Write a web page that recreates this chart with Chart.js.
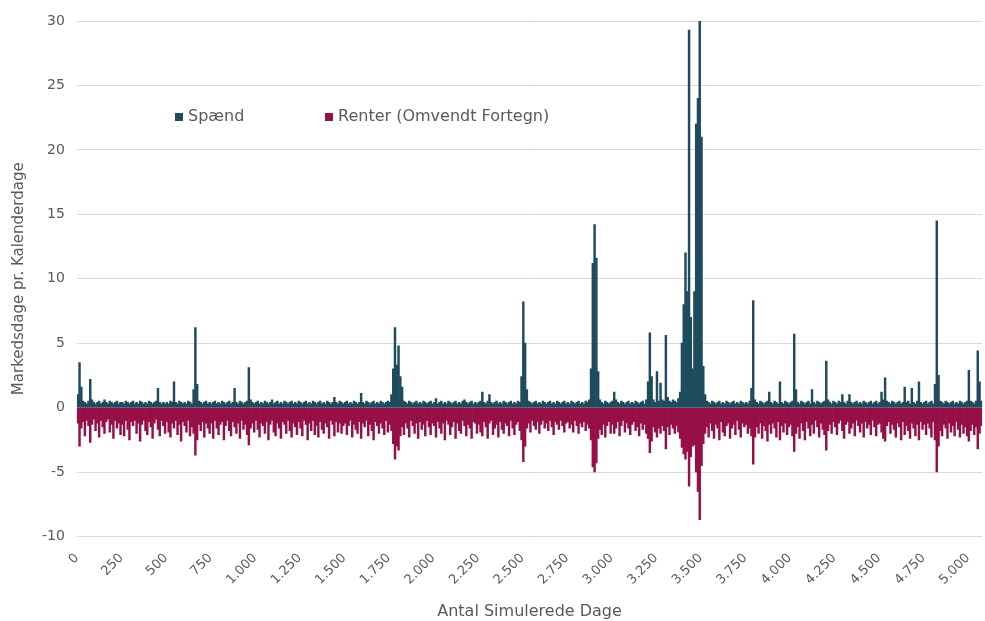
<!DOCTYPE html>
<html>
<head>
<meta charset="utf-8">
<script src="https://cdn.jsdelivr.net/npm/chart.js@4.4.1/dist/chart.umd.min.js"></script>
<style>
  html, body { margin: 0; padding: 0; background: #ffffff; }
  #wrap { width: 985px; height: 621px; position: relative; }
</style>
</head>
<body>
<div id="wrap"><canvas id="chart" width="985" height="621"></canvas></div>
<script>
// Each value covers a 10-day bin of simulated days (peak within the bin).
const BIN_DAYS = 10;
const X_MAX_DAYS = 5080;

// Spænd: market days per calendar day (positive side)
const spaend = [
  1.0,3.5,1.6,0.5,0.4,0.3,0.5,2.2,0.6,0.4,0.3,0.4,0.5,0.3,0.4,0.6,0.4,0.3,0.5,0.4,0.3,0.4,0.5,0.3,0.4,
  0.4,0.3,0.5,0.4,0.3,0.4,0.5,0.3,0.4,0.3,0.5,0.4,0.3,0.4,0.3,0.5,0.4,0.3,0.4,0.5,1.5,0.4,0.3,0.4,0.3,
  0.4,0.3,0.5,0.4,2.0,0.4,0.3,0.5,0.4,0.3,0.4,0.3,0.5,0.4,0.3,1.4,6.2,1.8,0.5,0.4,0.3,0.4,0.5,0.3,0.4,
  0.3,0.4,0.5,0.3,0.4,0.3,0.5,0.4,0.3,0.4,0.5,0.3,0.4,1.5,0.4,0.3,0.5,0.4,0.3,0.4,0.5,3.1,0.6,0.4,0.3,
  0.4,0.5,0.3,0.4,0.3,0.5,0.4,0.3,0.4,0.6,0.3,0.4,0.5,0.3,0.4,0.3,0.5,0.4,0.3,0.4,0.5,0.3,0.4,0.3,0.5,
  0.4,0.3,0.4,0.5,0.3,0.4,0.3,0.5,0.4,0.3,0.4,0.5,0.3,0.4,0.3,0.5,0.4,0.3,0.4,0.8,0.4,0.3,0.5,0.4,0.3,
  0.4,0.5,0.3,0.4,0.3,0.5,0.4,0.3,0.4,1.1,0.4,0.3,0.5,0.4,0.3,0.4,0.5,0.3,0.4,0.3,0.5,0.4,0.3,0.4,0.5,
  0.4,1.0,3.0,6.2,3.3,4.8,2.4,1.6,0.5,0.4,0.3,0.5,0.4,0.3,0.4,0.5,0.3,0.4,0.3,0.5,0.4,0.3,0.4,0.5,0.3,
  0.4,0.7,0.3,0.4,0.5,0.3,0.4,0.3,0.5,0.4,0.3,0.4,0.5,0.3,0.4,0.3,0.5,0.6,0.4,0.3,0.4,0.5,0.3,0.4,0.3,
  0.4,0.5,1.2,0.4,0.3,0.5,1.0,0.4,0.3,0.4,0.5,0.3,0.4,0.3,0.5,0.4,0.3,0.4,0.5,0.3,0.4,0.3,0.5,0.4,2.4,
  8.2,5.0,1.4,0.5,0.4,0.3,0.4,0.5,0.3,0.4,0.3,0.5,0.4,0.3,0.4,0.5,0.3,0.4,0.3,0.5,0.4,0.3,0.4,0.5,0.3,
  0.4,0.3,0.5,0.4,0.3,0.4,0.5,0.3,0.4,0.3,0.5,0.4,0.6,3.0,11.2,14.2,11.6,2.8,0.6,0.4,0.3,0.5,0.4,0.3,0.4,
  0.5,1.2,0.6,0.4,0.3,0.5,0.4,0.3,0.4,0.5,0.3,0.4,0.3,0.5,0.4,0.3,0.4,0.5,0.3,0.6,2.0,5.8,2.4,0.6,0.4,
  2.8,0.5,1.9,0.6,0.5,5.6,0.8,0.5,0.4,0.6,0.5,0.4,0.7,1.2,5.0,8.0,12.0,9.0,29.3,7.0,3.0,9.0,22.0,24.0,30.0,
  21.0,3.2,1.0,0.5,0.4,0.3,0.5,0.4,0.3,0.4,0.5,0.3,0.4,0.3,0.5,0.4,0.3,0.4,0.5,0.3,0.4,0.3,0.5,0.4,0.3,
  0.4,0.3,0.5,1.5,8.3,0.6,0.4,0.3,0.5,0.4,0.3,0.4,0.5,1.2,0.4,0.3,0.5,0.4,0.3,2.0,0.4,0.3,0.5,0.4,0.3,
  0.4,0.5,5.7,1.4,0.4,0.3,0.5,0.4,0.3,0.4,0.5,0.3,1.4,0.4,0.3,0.5,0.4,0.3,0.4,0.5,3.6,0.6,0.4,0.3,0.5,
  0.4,0.3,0.5,0.4,1.0,0.4,0.3,0.5,1.0,0.4,0.3,0.4,0.5,0.3,0.4,0.3,0.5,0.4,0.3,0.4,0.5,0.3,0.4,0.5,0.3,
  0.4,1.2,0.6,2.3,0.5,0.4,0.3,0.5,0.4,0.3,0.4,0.5,0.3,0.4,1.6,0.4,0.5,0.3,1.5,0.4,0.3,0.5,2.0,0.4,0.3,
  0.4,0.5,0.3,0.4,0.5,0.3,1.8,14.5,2.5,0.5,0.4,0.3,0.5,0.4,0.3,0.4,0.5,0.3,0.4,0.3,0.5,0.4,0.3,0.4,0.5,
  2.9,0.5,0.4,0.3,0.5,4.4,2.0,0.5
];

// Renter, shown with reversed sign (negative side)
const renter = [
  -1.2,-3.0,-1.6,-1.1,-2.2,-1.0,-1.4,-2.7,-1.3,-0.9,-1.8,-1.2,-2.3,-1.0,-1.5,-2.0,-1.1,-0.9,-1.9,-1.3,-2.4,-1.0,-1.6,-1.2,-2.1,
  -1.3,-2.2,-1.0,-1.7,-2.5,-1.1,-1.4,-1.0,-2.0,-1.2,-2.6,-1.3,-1.0,-1.8,-2.1,-1.1,-1.5,-2.4,-1.2,-0.9,-1.7,-2.2,-1.0,-1.4,-2.0,
  -1.1,-1.9,-2.3,-1.2,-1.6,-1.0,-2.1,-1.3,-2.6,-1.1,-1.4,-1.9,-1.0,-2.2,-1.5,-2.0,-3.7,-2.5,-1.3,-1.8,-1.1,-2.3,-1.2,-1.6,-2.0,
  -1.2,-2.4,-1.0,-1.6,-2.1,-1.3,-1.1,-2.5,-1.4,-1.0,-1.8,-2.2,-1.1,-1.5,-2.0,-1.2,-2.4,-1.0,-1.7,-1.3,-2.1,-2.9,-1.6,-1.2,-1.9,
  -1.0,-1.7,-2.3,-1.2,-1.4,-2.0,-1.1,-2.5,-1.3,-1.0,-1.9,-2.2,-1.2,-1.6,-2.4,-1.1,-1.3,-2.0,-1.0,-1.8,-2.3,-1.2,-1.5,-2.1,-1.1,
  -1.6,-2.2,-1.0,-1.3,-2.5,-1.2,-1.8,-1.0,-2.1,-1.4,-2.3,-1.1,-1.7,-2.0,-1.2,-1.5,-2.4,-1.0,-1.3,-2.2,-1.1,-1.9,-1.2,-2.0,-1.4,
  -1.2,-2.1,-1.4,-1.0,-2.3,-1.3,-1.7,-2.0,-1.1,-2.4,-1.2,-1.5,-1.0,-2.2,-1.3,-1.8,-2.5,-1.1,-1.4,-2.0,-1.2,-1.6,-2.1,-1.0,-1.9,
  -1.3,-1.8,-2.8,-4.0,-3.0,-3.3,-2.2,-1.5,-2.1,-1.2,-1.6,-2.3,-1.0,-1.4,-2.0,-1.2,-2.4,-1.1,-1.7,-1.3,-2.2,-1.0,-1.5,-2.1,-1.2,
  -1.4,-2.3,-1.1,-1.6,-2.0,-1.2,-2.5,-1.0,-1.3,-2.1,-1.5,-1.1,-2.4,-1.2,-1.8,-2.0,-1.0,-1.4,-2.2,-1.3,-1.6,-2.4,-1.1,-1.2,-2.0,
  -1.3,-1.9,-2.2,-1.1,-1.5,-2.4,-1.2,-1.0,-2.1,-1.6,-1.3,-2.3,-1.1,-1.7,-2.0,-1.2,-1.4,-2.2,-1.0,-1.6,-2.1,-1.3,-1.1,-1.8,-2.5,
  -4.2,-3.0,-1.6,-1.2,-1.9,-1.0,-1.4,-1.7,-1.1,-2.0,-1.3,-1.0,-1.6,-1.2,-1.8,-1.0,-1.5,-2.1,-1.1,-1.3,-1.7,-1.0,-1.4,-1.9,-1.2,
  -1.1,-1.6,-1.3,-1.9,-1.0,-1.4,-2.0,-1.2,-1.5,-1.1,-1.8,-1.3,-1.6,-2.5,-4.6,-5.0,-4.3,-2.4,-1.7,-2.1,-1.3,-2.3,-1.4,-1.1,-2.0,
  -1.3,-2.0,-1.6,-1.1,-2.2,-1.4,-1.0,-1.9,-1.2,-1.6,-2.1,-1.3,-1.1,-1.8,-1.5,-2.2,-1.2,-1.7,-1.3,-2.0,-2.4,-3.5,-2.6,-1.5,-1.9,
  -2.3,-1.6,-2.0,-1.4,-1.8,-3.2,-1.5,-2.1,-1.3,-1.6,-2.0,-1.4,-1.9,-2.4,-3.1,-3.6,-4.0,-3.4,-6.1,-3.8,-3.0,-2.9,-5.0,-6.5,-8.7,
  -4.5,-2.8,-2.0,-1.5,-2.3,-1.2,-1.8,-2.4,-1.3,-1.6,-2.5,-1.1,-1.9,-2.2,-1.4,-1.2,-2.4,-1.6,-1.3,-2.1,-1.0,-1.7,-2.3,-1.2,-1.5,
  -1.3,-2.0,-1.6,-2.2,-4.4,-2.3,-1.5,-2.0,-1.2,-2.4,-1.4,-1.8,-2.6,-1.3,-2.0,-1.2,-1.6,-2.3,-1.1,-2.5,-1.4,-1.9,-1.2,-2.1,-1.5,
  -1.3,-2.2,-3.4,-2.0,-1.5,-2.4,-1.2,-1.8,-2.5,-1.1,-1.6,-2.2,-1.3,-2.0,-1.0,-1.5,-2.3,-1.2,-1.7,-2.1,-3.3,-1.8,-1.3,-2.0,-1.1,
  -1.5,-2.1,-1.2,-1.0,-1.8,-2.4,-1.3,-1.1,-2.0,-1.6,-1.2,-2.2,-1.0,-1.4,-1.9,-1.2,-2.3,-1.1,-1.6,-1.3,-2.1,-1.0,-1.5,-2.2,-1.3,
  -1.2,-1.9,-2.4,-2.6,-1.4,-1.1,-2.0,-1.3,-1.7,-2.3,-1.2,-1.5,-2.5,-1.1,-2.1,-1.4,-1.8,-2.4,-1.2,-1.6,-2.2,-1.3,-2.5,-1.1,-1.7,
  -1.3,-2.1,-1.2,-1.6,-2.3,-1.1,-2.5,-5.0,-3.0,-1.8,-2.2,-1.3,-1.6,-2.4,-1.2,-1.9,-1.4,-2.2,-1.1,-1.7,-2.3,-1.3,-2.0,-1.5,-2.2,
  -2.6,-1.8,-1.3,-2.1,-1.5,-3.2,-2.0,-1.4
];

const xTickValues = [0,250,500,750,1000,1250,1500,1750,2000,2250,2500,2750,3000,3250,3500,3750,4000,4250,4500,4750,5000];
const xTickLabels = ['0','250','500','750','1.000','1.250','1.500','1.750','2.000','2.250','2.500','2.750','3.000','3.250','3.500','3.750','4.000','4.250','4.500','4.750','5.000'];
const yTickValues = [-10,-5,0,5,10,15,20,25,30];

const seriesNames = ['Spænd', 'Renter (Omvendt Fortegn)'];
const seriesColors = ['#1f4b5e', '#960f46'];

const FONT = 'DejaVu Sans';
const TEXT = '#595959';

// bins are centred inside their 10-day span on the linear day axis
const toPoints = arr => arr.map((v, i) => ({ x: i * BIN_DAYS + BIN_DAYS / 2, y: v }));

// legend drawn inside the plot, on one row
const insideLegend = {
  id: 'insideLegend',
  afterDraw(chart) {
    const ctx = chart.ctx;
    const items = [{ x: 175, y: 117 }, { x: 325, y: 117 }];
    ctx.save();
    ctx.font = '16px "' + FONT + '"';
    ctx.textBaseline = 'middle';
    ctx.textAlign = 'left';
    chart.data.datasets.forEach((ds, i) => {
      const p = items[i];
      ctx.fillStyle = ds.backgroundColor;
      ctx.fillRect(p.x, p.y - 4, 8, 8);
      ctx.fillStyle = TEXT;
      ctx.fillText(ds.label, p.x + 13, p.y);
    });
    ctx.restore();
  }
};

new Chart(document.getElementById('chart'), {
  type: 'bar',
  data: {
    datasets: [
      { label: seriesNames[0], data: toPoints(spaend), backgroundColor: seriesColors[0], grouped: false, barThickness: 1.8, borderWidth: 0 },
      { label: seriesNames[1], data: toPoints(renter), backgroundColor: seriesColors[1], grouped: false, barThickness: 1.8, borderWidth: 0 }
    ]
  },
  options: {
    responsive: false,
    animation: false,
    devicePixelRatio: 1,
    layout: { padding: { left: 4, right: 0, top: 21, bottom: 0 } },
    plugins: {
      legend: { display: false },
      tooltip: { enabled: false }
    },
    scales: {
      x: {
        type: 'linear',
        min: 0,
        max: X_MAX_DAYS,
        offset: false,
        grid: { display: false },
        border: { display: false },
        afterBuildTicks: s => { s.ticks = xTickValues.map(v => ({ value: v })); },
        ticks: {
          autoSkip: false,
          minRotation: 45,
          maxRotation: 45,
          padding: 6,
          color: TEXT,
          font: { family: FONT, size: 13 },
          callback: v => { const k = xTickValues.indexOf(v); return k >= 0 ? xTickLabels[k] : ''; }
        },
        title: {
          display: true,
          text: 'Antal Simulerede Dage',
          color: TEXT,
          font: { family: FONT, size: 16 },
          padding: { top: 8, bottom: 0 }
        }
      },
      y: {
        min: -10,
        max: 30,
        afterBuildTicks: s => { s.ticks = yTickValues.map(v => ({ value: v })); },
        grid: { color: '#d9d9d9', lineWidth: 1, drawTicks: false },
        border: { display: false },
        ticks: {
          padding: 12,
          color: TEXT,
          font: { family: FONT, size: 14 }
        },
        title: {
          display: true,
          text: 'Markedsdage pr. Kalenderdage',
          color: TEXT,
          font: { family: FONT, size: 15 },
          padding: { top: 6, bottom: 2 }
        }
      }
    }
  },
  plugins: [insideLegend]
});
</script>
</body>
</html>
